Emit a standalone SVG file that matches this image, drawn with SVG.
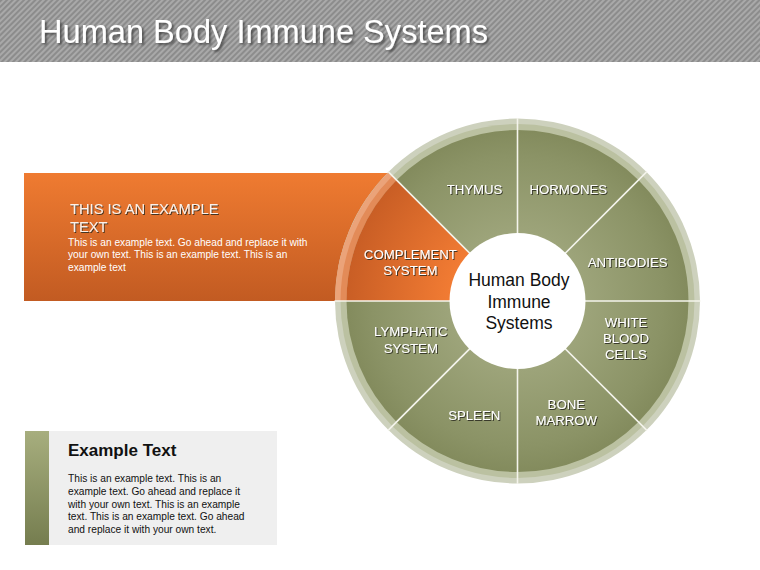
<svg xmlns="http://www.w3.org/2000/svg" width="760" height="570" viewBox="0 0 760 570">
<defs>
<pattern id="stripes" width="4" height="4" patternUnits="userSpaceOnUse" patternTransform="rotate(45)">
<rect width="4" height="4" fill="#a9a9a9"/>
<rect width="2" height="4" fill="#8c8c8c"/>
</pattern>
<linearGradient id="orangeBand" x1="0" y1="0" x2="0" y2="1">
<stop offset="0" stop-color="#ef7b31"/>
<stop offset="1" stop-color="#c25b22"/>
</linearGradient>
<linearGradient id="greenBar" x1="0" y1="0" x2="0" y2="1">
<stop offset="0" stop-color="#a7ae7e"/>
<stop offset="1" stop-color="#757d4f"/>
</linearGradient>
<radialGradient id="greenSector" gradientUnits="userSpaceOnUse" cx="517.5" cy="301" r="171">
<stop offset="0.4" stop-color="#9da47a"/>
<stop offset="0.85" stop-color="#8b9366"/>
<stop offset="1" stop-color="#838b5d"/>
</radialGradient>
<radialGradient id="orangeSector" gradientUnits="userSpaceOnUse" cx="517.5" cy="301" r="171">
<stop offset="0.4" stop-color="#f17b33"/>
<stop offset="1" stop-color="#c95e25"/>
</radialGradient>
<filter id="titleShadow" x="-5%" y="-20%" width="110%" height="150%">
<feDropShadow dx="2" dy="2" stdDeviation="1" flood-color="#333" flood-opacity="0.7"/>
</filter>
<filter id="lblShadow" x="-10%" y="-30%" width="120%" height="160%">
<feDropShadow dx="1" dy="1" stdDeviation="0.6" flood-color="#2b2b1c" flood-opacity="0.85"/>
</filter>
</defs>
<style>
.lbl { font-family: "Liberation Sans", Arial, sans-serif; font-size: 13.2px; fill: #ffffff; text-anchor: middle; filter: url(#lblShadow); }
.center { font-family: "Liberation Sans", Arial, sans-serif; font-size: 17.5px; fill: #111111; text-anchor: middle; }
.divider { stroke: #f4f4ec; stroke-width: 1.6; }
.body { font-family: "Liberation Sans", Arial, sans-serif; font-size: 10.2px; }
</style>

<rect width="760" height="570" fill="#ffffff"/>

<g id="title-bar">
<rect x="0" y="0" width="760" height="62" fill="url(#stripes)"/>
<text x="39" y="43" font-family="Liberation Sans, Arial, sans-serif" font-size="32.6" fill="#ffffff" filter="url(#titleShadow)">Human Body Immune Systems</text>
</g>

<g id="orange-callout">
<rect x="24" y="173" width="430" height="128" fill="url(#orangeBand)"/>
<text x="70" y="214" font-family="Liberation Sans, Arial, sans-serif" font-size="14.7" fill="#fdf1e8" filter="url(#lblShadow)">THIS IS AN EXAMPLE</text>
<text x="70" y="232" font-family="Liberation Sans, Arial, sans-serif" font-size="14.7" fill="#fdf1e8" filter="url(#lblShadow)">TEXT</text>
<text class="body" fill="#ffffff">
<tspan x="68" y="245.5">This is an example text. Go ahead and replace it with</tspan>
<tspan x="68" y="258">your own text. This is an example text. This is an</tspan>
<tspan x="68" y="270.5">example text</tspan>
</text>
</g>

<g id="wheel-ring">
<circle cx="517.5" cy="301" r="182.5" fill="#cdd1bd"/>
<circle cx="517.5" cy="301" r="177" fill="#bbc1a1"/>
<path d="M 388.5 172 A 182.5 182.5 0 0 0 335 301 L 346.5 301 A 171 171 0 0 1 396.6 180.1 Z" fill="#eba379"/>
<path d="M 392.4 176 A 177 177 0 0 0 340.5 301 L 346.5 301 A 171 171 0 0 1 396.6 180.1 Z" fill="#e38b58"/>
</g>

<g id="node-thymus">
<path d="M 517.5 301 L 517.5 130 A 171 171 0 0 0 396.6 180.1 Z" fill="url(#greenSector)"/>
<text class="lbl" x="474.5" y="194">THYMUS</text>
</g>
<g id="node-hormones">
<path d="M 517.5 301 L 638.4 180.1 A 171 171 0 0 0 517.5 130 Z" fill="url(#greenSector)"/>
<text class="lbl" x="568.3" y="193.5">HORMONES</text>
</g>
<g id="node-antibodies">
<path d="M 517.5 301 L 688.5 301 A 171 171 0 0 0 638.4 180.1 Z" fill="url(#greenSector)"/>
<text class="lbl" x="627.7" y="266.5">ANTIBODIES</text>
</g>
<g id="node-white-blood-cells">
<path d="M 517.5 301 L 638.4 421.9 A 171 171 0 0 0 688.5 301 Z" fill="url(#greenSector)"/>
<text class="lbl" x="626" y="326.7">WHITE</text>
<text class="lbl" x="626" y="343">BLOOD</text>
<text class="lbl" x="626" y="359.3">CELLS</text>
</g>
<g id="node-bone-marrow">
<path d="M 517.5 301 L 517.5 472 A 171 171 0 0 0 638.4 421.9 Z" fill="url(#greenSector)"/>
<text class="lbl" x="566.3" y="409.3">BONE</text>
<text class="lbl" x="566.3" y="425">MARROW</text>
</g>
<g id="node-spleen">
<path d="M 517.5 301 L 396.6 421.9 A 171 171 0 0 0 517.5 472 Z" fill="url(#greenSector)"/>
<text class="lbl" x="474.2" y="420">SPLEEN</text>
</g>
<g id="node-lymphatic-system">
<path d="M 517.5 301 L 346.5 301 A 171 171 0 0 0 396.6 421.9 Z" fill="url(#greenSector)"/>
<text class="lbl" x="410.8" y="336">LYMPHATIC</text>
<text class="lbl" x="410.8" y="352.5">SYSTEM</text>
</g>
<g id="node-complement-system">
<path d="M 517.5 301 L 396.6 180.1 A 171 171 0 0 0 346.5 301 Z" fill="url(#orangeSector)"/>
<text class="lbl" x="410.4" y="259">COMPLEMENT</text>
<text class="lbl" x="410.4" y="275">SYSTEM</text>
</g>

<g id="dividers">
<line class="divider" x1="517.5" y1="301" x2="517.5" y2="118"/>
<line class="divider" x1="517.5" y1="301" x2="646.9" y2="171.6"/>
<line class="divider" x1="517.5" y1="301" x2="700.5" y2="301"/>
<line class="divider" x1="517.5" y1="301" x2="646.9" y2="430.4"/>
<line class="divider" x1="517.5" y1="301" x2="517.5" y2="484"/>
<line class="divider" x1="517.5" y1="301" x2="388.1" y2="430.4"/>
<line class="divider" x1="517.5" y1="301" x2="334.5" y2="301"/>
<line class="divider" x1="517.5" y1="301" x2="388.1" y2="171.6"/>
</g>

<g id="node-center">
<circle cx="517.5" cy="301" r="68" fill="#ffffff"/>
<text class="center" x="519" y="286">Human Body</text>
<text class="center" x="519" y="307.5">Immune</text>
<text class="center" x="519" y="328.5">Systems</text>
</g>

<g id="example-box">
<rect x="25" y="431" width="252" height="114" fill="#efefef"/>
<rect x="25" y="431" width="24" height="114" fill="url(#greenBar)"/>
<text x="68" y="456" font-family="Liberation Sans, Arial, sans-serif" font-size="17" font-weight="bold" fill="#111111">Example Text</text>
<text class="body" fill="#111111">
<tspan x="68" y="482">This is an example text. This is an</tspan>
<tspan x="68" y="494.8">example text. Go ahead and replace it</tspan>
<tspan x="68" y="507.6">with your own text. This is an example</tspan>
<tspan x="68" y="520.4">text. This is an example text. Go ahead</tspan>
<tspan x="68" y="533.2">and replace it with your own text.</tspan>
</text>
</g>
</svg>
